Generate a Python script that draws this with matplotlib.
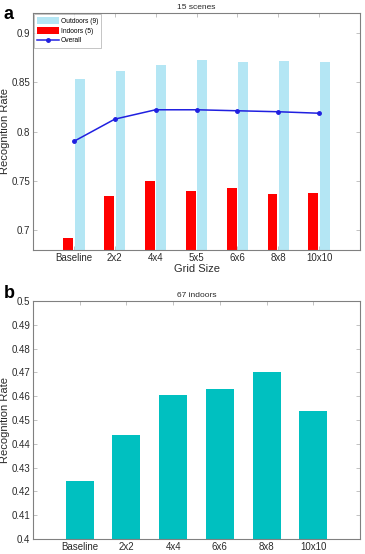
import matplotlib
matplotlib.use("Agg")
import matplotlib.pyplot as plt
import numpy as np

plt.rcParams['font.family'] = ['Liberation Sans', 'DejaVu Sans']

# Panel a data
cats_a = ["Baseline", "2x2", "4x4", "5x5", "6x6", "8x8", "10x10"]
outdoor = [0.853, 0.861, 0.867, 0.872, 0.870, 0.871, 0.870]
indoor = [0.692, 0.735, 0.750, 0.740, 0.743, 0.737, 0.738]
overall = [0.790, 0.8125, 0.822, 0.822, 0.821, 0.820, 0.8185]
yticks_a = [0.7, 0.75, 0.8, 0.85, 0.9]
ytick_labels_a = ["0.7", "0.75", "0.8", "0.85", "0.9"]

# Panel b data
cats_b = ["Baseline", "2x2", "4x4", "6x6", "8x8", "10x10"]
indoor67 = [0.4245, 0.4435, 0.4603, 0.4629, 0.4702, 0.4538]
yticks_b = [0.4, 0.41, 0.42, 0.43, 0.44, 0.45, 0.46, 0.47, 0.48, 0.49, 0.5]
ytick_labels_b = ["0.4", "0.41", "0.42", "0.43", "0.44", "0.45", "0.46", "0.47", "0.48", "0.49", "0.5"]

W, H = 365, 554
fig = plt.figure(figsize=(W / 100, H / 100), dpi=100)

def box(l, t, r, b):
    return [l / W, 1 - b / H, (r - l) / W, (b - t) / H]

edge = '#808080'
txt = '#2a2a2a'

def style(ax):
    for s in ax.spines.values():
        s.set_color(edge)
        s.set_linewidth(0.8)
    ax.tick_params(direction='in', length=3, width=0.5, color='#aaaaaa',
                   top=True, right=True, labelsize=7, pad=2, labelcolor=txt)

# Panel a
ax1 = fig.add_axes(box(33, 13, 360, 250))
xa = np.arange(1, len(cats_a) + 1)
bw = 0.24
b_in = ax1.bar(xa - 0.14, indoor, width=bw, color='#ff0000', label='Indoors (5)', zorder=2)
b_out = ax1.bar(xa + 0.14, outdoor, width=bw, color='#b4e6f4', label='Outdoors (9)', zorder=2)
ln, = ax1.plot(xa, overall, color='#2020e0', marker='.', markersize=5, lw=1.1, label='Overall', zorder=3)
ax1.set_xlim(0, 8)
ax1.set_ylim(0.68, 0.92)
ax1.set_xticks(xa)
ax1.set_xticklabels(cats_a)
ax1.set_yticks(yticks_a)
ax1.set_yticklabels(ytick_labels_a)
style(ax1)
ax1.set_xlabel("Grid Size", fontsize=8, labelpad=1, color=txt)
ax1.set_ylabel("Recognition Rate", fontsize=8, color=txt)
ax1.yaxis.set_label_coords((10 - 33) / 327, 0.5)
ax1.set_title("15 scenes", fontsize=6, pad=3, color=txt)
leg = ax1.legend([b_out, b_in, ln], ['Outdoors (9)', 'Indoors (5)', 'Overall'], loc='upper left',
                 fontsize=4.8, frameon=True, fancybox=False, borderpad=0.5,
                 handlelength=3.2, handleheight=1.1, labelspacing=0.35,
                 borderaxespad=0.15, handletextpad=0.3)
leg.get_frame().set_edgecolor('#999999')
leg.get_frame().set_linewidth(0.5)

# Panel b
ax2 = fig.add_axes(box(33, 301, 360, 539))
xb = np.arange(1, len(cats_b) + 1)
ax2.bar(xb, indoor67, width=0.6, color='#00c0c0', zorder=2)
ax2.set_xlim(0, 7)
ax2.set_ylim(0.4, 0.5)
ax2.set_xticks(xb)
ax2.set_xticklabels(cats_b)
ax2.set_yticks(yticks_b)
ax2.set_yticklabels(ytick_labels_b)
style(ax2)
ax2.set_ylabel("Recognition Rate", fontsize=8, color=txt)
ax2.yaxis.set_label_coords((10 - 33) / 327, 0.5)
ax2.set_title("67 indoors", fontsize=6, pad=3, color=txt)

fig.text(4 / W, 1 - 19 / H, "a", fontsize=13, fontweight='bold')
fig.text(4 / W, 1 - 298 / H, "b", fontsize=13, fontweight='bold')

fig.savefig("out.png", dpi=100)
